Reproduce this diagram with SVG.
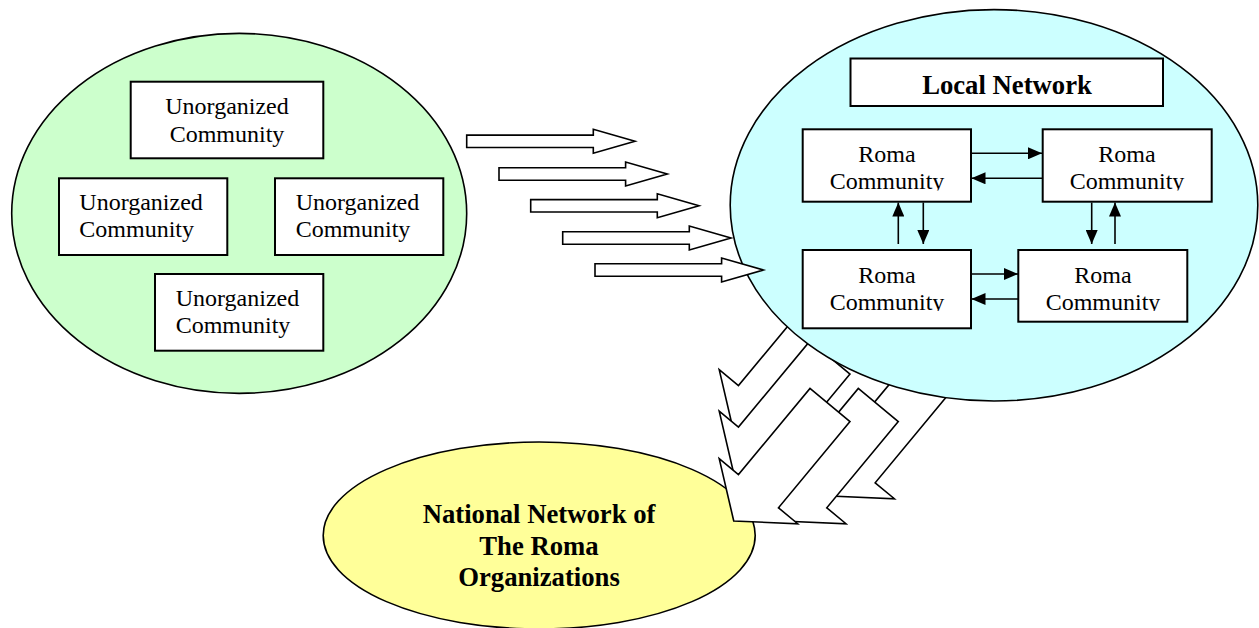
<svg xmlns="http://www.w3.org/2000/svg" width="1259" height="628" viewBox="0 0 1259 628">
  <style>
    .ell { stroke: #000; stroke-width: 1.6; }
    .box { fill: #fff; stroke: #000; stroke-width: 2; }
    .reg { font-family: "Liberation Serif", "Times New Roman", serif; font-size: 24px; fill: #000; }
    .bold { font-family: "Liberation Serif", "Times New Roman", serif; font-size: 26.7px; font-weight: bold; fill: #000; }
    .mid { text-anchor: middle; }
    .blk { fill: #fff; stroke: #000; stroke-width: 1.6; stroke-linejoin: miter; }
    .lnk { stroke: #000; stroke-width: 1.6; fill: none; marker-end: url(#ah); }
  </style>
  <defs>
    <marker id="ah" markerWidth="14" markerHeight="12" refX="14" refY="6" orient="auto" markerUnits="userSpaceOnUse">
      <path d="M0,0 L14,6 L0,12 Z" fill="#000"/>
    </marker>
    <path id="bigArrow" d="M0,-26 H112 V-51 L150.7,0 L112,51 V26 H0 Z"/>
    <path id="rightArrow" d="M0,-6.2 H126.6 V-12 L168.3,0 L126.6,12 V6.2 H0 Z"/>
    <clipPath id="clipTop"><rect x="780" y="120" width="460" height="70.5"/></clipPath>
    <clipPath id="clipBot"><rect x="780" y="240" width="460" height="71"/></clipPath>
  </defs>

  <rect width="1259" height="628" fill="#fff"/>

  <!-- National network (bottom) -->
  <g id="national">
    <ellipse class="ell" cx="539.2" cy="535.5" rx="216" ry="93.5" fill="#FFFF99"/>
    <text class="bold mid" x="539" y="523">National Network of</text>
    <text class="bold mid" x="539" y="554.5">The Roma</text>
    <text class="bold mid" x="539" y="586">Organizations</text>
  </g>

  <!-- Block arrows from Local Network to National Network -->
  <g id="connectors-down">
    <use href="#bigArrow" class="blk" transform="translate(830,316) rotate(129.7)"/>
    <use href="#bigArrow" class="blk" transform="translate(830,357.5) rotate(129.7)"/>
    <use href="#bigArrow" class="blk" transform="translate(926.7,380) rotate(129.7)"/>
    <use href="#bigArrow" class="blk" transform="translate(878.3,405) rotate(129.7)"/>
    <use href="#bigArrow" class="blk" transform="translate(830,405) rotate(129.7)"/>
  </g>

  <!-- Unorganized communities -->
  <g id="unorganized">
    <ellipse class="ell" cx="239.2" cy="213.4" rx="227.5" ry="180" fill="#CCFFCC"/>
    <g id="unorg-top">
      <rect class="box" x="130.7" y="81.7" width="192.6" height="76.6"/>
      <text class="reg mid" x="227" y="114.3">Unorganized</text>
      <text class="reg mid" x="227" y="141.7">Community</text>
    </g>
    <g id="unorg-left">
      <rect class="box" x="59" y="178.3" width="168.3" height="76.7"/>
      <text class="reg" x="79.3" y="210">Unorganized</text>
      <text class="reg" x="79.3" y="237.3">Community</text>
    </g>
    <g id="unorg-right">
      <rect class="box" x="275" y="178.3" width="168.3" height="76.7"/>
      <text class="reg" x="295.7" y="210">Unorganized</text>
      <text class="reg" x="295.7" y="237.3">Community</text>
    </g>
    <g id="unorg-bottom">
      <rect class="box" x="155" y="274" width="168.3" height="76.7"/>
      <text class="reg" x="175.7" y="305.7">Unorganized</text>
      <text class="reg" x="175.7" y="333.3">Community</text>
    </g>
  </g>

  <!-- Local network -->
  <g id="local">
    <ellipse class="ell" cx="994" cy="205.3" rx="263.8" ry="195.7" fill="#CCFFFF"/>
    <g id="local-title">
      <rect class="box" x="850.5" y="58.5" width="312.5" height="47.5"/>
      <text class="bold mid" x="1007" y="93.5">Local Network</text>
    </g>
    <g id="roma-tl">
      <rect class="box" x="802.7" y="129.3" width="168.3" height="72.4"/>
      <text class="reg mid" x="887" y="162.3">Roma</text>
      <text class="reg mid" x="887" y="189" clip-path="url(#clipTop)">Community</text>
    </g>
    <g id="roma-tr">
      <rect class="box" x="1042.7" y="129.3" width="169" height="72.4"/>
      <text class="reg mid" x="1127" y="162.3">Roma</text>
      <text class="reg mid" x="1127" y="189" clip-path="url(#clipTop)">Community</text>
    </g>
    <g id="roma-bl">
      <rect class="box" x="802.7" y="250" width="168.3" height="78.3"/>
      <text class="reg mid" x="887" y="283">Roma</text>
      <text class="reg mid" x="887" y="309.7" clip-path="url(#clipBot)">Community</text>
    </g>
    <g id="roma-br">
      <rect class="box" x="1018.3" y="250" width="169" height="71.7"/>
      <text class="reg mid" x="1103" y="283">Roma</text>
      <text class="reg mid" x="1103" y="309.7" clip-path="url(#clipBot)">Community</text>
    </g>
  </g>

  <!-- Flow arrows and links -->
  <g id="connectors">
    <use href="#rightArrow" class="blk" transform="translate(466.7,141.3)"/>
    <use href="#rightArrow" class="blk" transform="translate(499,174)"/>
    <use href="#rightArrow" class="blk" transform="translate(530.7,205.8)"/>
    <use href="#rightArrow" class="blk" transform="translate(562.7,238)"/>
    <use href="#rightArrow" class="blk" transform="translate(595,270)"/>

    <line class="lnk" x1="971" y1="153.3" x2="1042" y2="153.3"/>
    <line class="lnk" x1="1042.7" y1="178.3" x2="971.5" y2="178.3"/>
    <line class="lnk" x1="971" y1="274" x2="1018" y2="274"/>
    <line class="lnk" x1="1018.3" y1="299" x2="971.5" y2="299"/>
    <line class="lnk" x1="898.3" y1="244" x2="898.3" y2="202.5"/>
    <line class="lnk" x1="923.3" y1="202.5" x2="923.3" y2="244"/>
    <line class="lnk" x1="1091.7" y1="202.5" x2="1091.7" y2="244"/>
    <line class="lnk" x1="1115" y1="244" x2="1115" y2="202.5"/>
  </g>
</svg>
